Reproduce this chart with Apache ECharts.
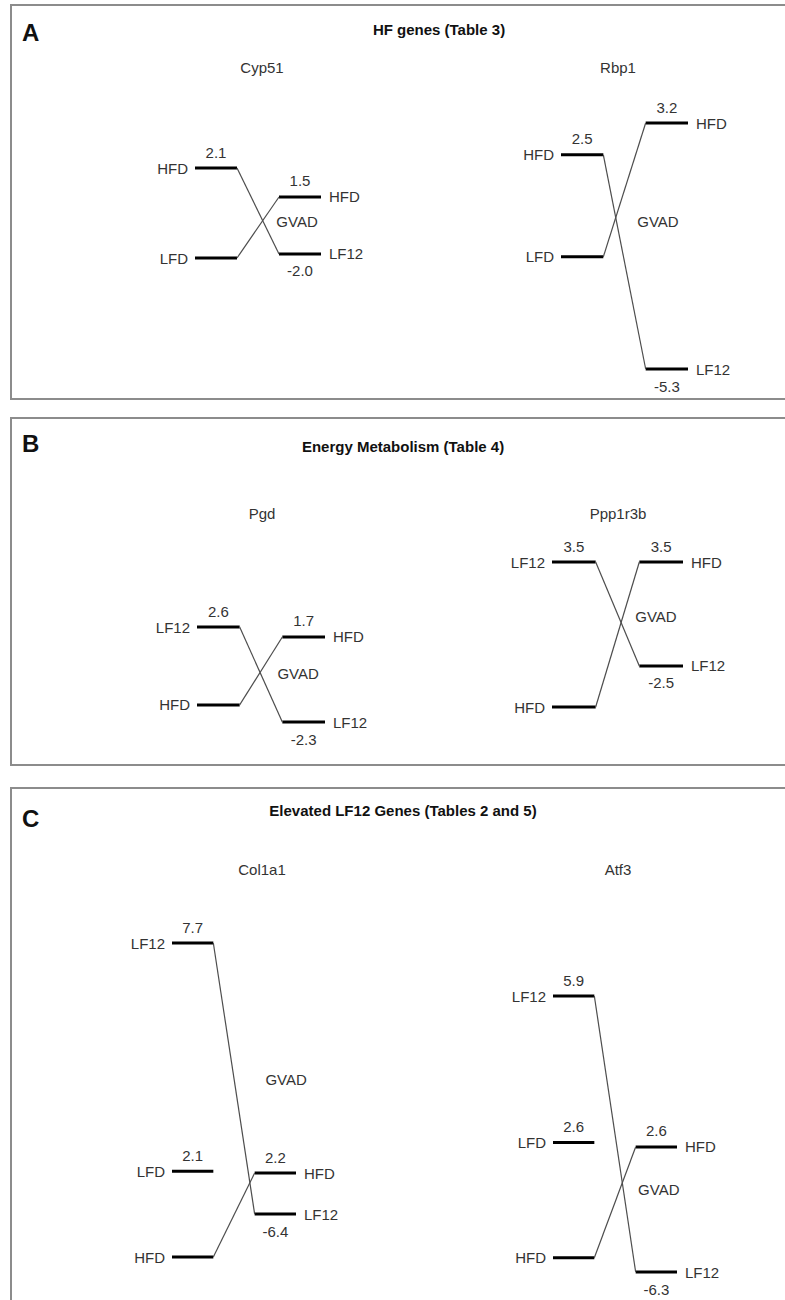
<!DOCTYPE html>
<html>
<head>
<meta charset="utf-8">
<script src="https://cdn.jsdelivr.net/npm/echarts@6/dist/echarts.min.js"></script>
<style>
  html, body { margin: 0; padding: 0; background: #fff; }
  #main { width: 785px; height: 1300px; }
</style>
</head>
<body>
<div id="main"></div>
<script>
// panels
var panelLetters = ['A', 'B', 'C'];
var panelTitles = ['HF genes (Table 3)', 'Energy Metabolism (Table 4)', 'Elevated LF12 Genes (Tables 2 and 5)'];

// genes, two per panel
var genes = ['Cyp51', 'Rbp1', 'Pgd', 'Ppp1r3b', 'Col1a1', 'Atf3'];

// left column: diet groups and fold values (null = reference, no number shown)
var leftGroups = [
    ['HFD', 'LFD'],
    ['HFD', 'LFD'],
    ['LF12', 'HFD'],
    ['LF12', 'HFD'],
    ['LF12', 'LFD', 'HFD'],
    ['LF12', 'LFD', 'HFD']
];
var leftValues = [
    [2.1, null],
    [2.5, null],
    [2.6, null],
    [3.5, null],
    [7.7, 2.1, null],
    [5.9, 2.6, null]
];

// right column: GVAD comparison
var rightGroups = [
    ['HFD', 'LF12'],
    ['HFD', 'LF12'],
    ['HFD', 'LF12'],
    ['HFD', 'LF12'],
    ['HFD', 'LF12'],
    ['HFD', 'LF12']
];
var rightValues = [
    [1.5, -2.0],
    [3.2, -5.3],
    [1.7, -2.3],
    [3.5, -2.5],
    [2.2, -6.4],
    [2.6, -6.3]
];

// which left bar joins which right bar
var links = [
    [[0, 1], [1, 0]],
    [[0, 1], [1, 0]],
    [[0, 1], [1, 0]],
    [[0, 1], [1, 0]],
    [[0, 1], [2, 0]],
    [[0, 1], [2, 0]]
];

// layout of each small diagram (pixels and axis ranges)
var layout = [
    { grid: [195, 168, 126, 90],  yL: [0, 2.1],     yR: [-2.25, 3.28], gvad: [2.43, -0.03] },
    { grid: [561, 123, 127, 246], yL: [-2.75, 3.28], yR: [-5.3, 3.2],  gvad: [2.29, -0.22] },
    { grid: [197, 627, 128, 95],  yL: [-0.57, 2.6], yR: [-2.3, 2.17],  gvad: [2.37, -0.04] },
    { grid: [552, 562, 131, 145], yL: [0, 3.5],     yR: [-4.87, 3.5],  gvad: [2.38, 0.33] },
    { grid: [172, 943, 124, 314], yL: [0, 7.7],     yR: [-15.4, 50.4], gvad: [2.76, 21.7] },
    { grid: [553, 996, 124, 276], yL: [-0.32, 5.9], yR: [-6.3, 13.35], gvad: [2.56, -0.4] }
];
var panelBoxes = [[11, 5, 394], [11, 418, 347], [11, 788, 600]];
var panelTitleX = [439, 403, 403];
var panelTitleY = [29, 446, 810];
var letterY = [32, 443, 818];
var geneTitleX = [262, 618];
var geneTitleY = [67, 513, 869];

var FONT = '"Liberation Sans", Arial, Helvetica, sans-serif';
var TXT = '#333';

function barRender(names, values, x0, x1, side) {
    return function (params, api) {
        var k = params.dataIndex;
        var v = values[k];
        var y = v == null ? 0 : v;
        var a = api.coord([x0, y]);
        var b = api.coord([x1, y]);
        var kids = [{
            type: 'line',
            shape: { x1: a[0], y1: a[1], x2: b[0], y2: b[1] },
            style: { stroke: '#000', lineWidth: 3 }
        }, {
            type: 'text',
            x: side === 'left' ? a[0] - 7 : b[0] + 8,
            y: a[1],
            style: {
                text: names[k], fill: TXT, font: '15px ' + FONT,
                align: side === 'left' ? 'right' : 'left', verticalAlign: 'middle'
            }
        }];
        if (v != null) {
            kids.push({
                type: 'text',
                x: (a[0] + b[0]) / 2,
                y: v >= 0 ? a[1] - 16 : a[1] + 17,
                style: {
                    text: v.toFixed(1), fill: TXT, font: '15px ' + FONT,
                    align: 'center', verticalAlign: 'middle'
                }
            });
        }
        return { type: 'group', children: kids };
    };
}

function linkRender(lv, rv, yR, pairs) {
    return function (params, api) {
        var p = pairs[params.dataIndex];
        var yl = lv[p[0]] == null ? 0 : lv[p[0]];
        var yr = rv[p[1]];
        var a = api.coord([1, yl]);
        var bx = api.coord([2, yl])[0];
        var cs = params.coordSys;
        // right-hand values live on the second y axis of this grid
        var by = cs.y + (yR[1] - yr) / (yR[1] - yR[0]) * cs.height;
        return {
            type: 'line',
            shape: { x1: a[0], y1: a[1], x2: bx, y2: by },
            style: { stroke: '#4d4d4d', lineWidth: 1.2 }
        };
    };
}

var grids = [], xAxes = [], yAxes = [], series = [];
genes.forEach(function (g, i) {
    var L = layout[i];
    grids.push({ left: L.grid[0], top: L.grid[1], width: L.grid[2], height: L.grid[3] });
    xAxes.push({ type: 'value', gridIndex: i, min: 0, max: 3, show: false });
    yAxes.push({ type: 'value', gridIndex: i, min: L.yL[0], max: L.yL[1], show: false });
    yAxes.push({ type: 'value', gridIndex: i, min: L.yR[0], max: L.yR[1], show: false, position: 'right' });

    series.push({
        type: 'custom', xAxisIndex: i, yAxisIndex: 2 * i, silent: true,
        data: leftValues[i].map(function (v) { return [v == null ? 0 : v]; }),
        renderItem: barRender(leftGroups[i], leftValues[i], 0, 1, 'left')
    });
    series.push({
        type: 'custom', xAxisIndex: i, yAxisIndex: 2 * i + 1, silent: true,
        data: rightValues[i].map(function (v) { return [v]; }),
        renderItem: barRender(rightGroups[i], rightValues[i], 2, 3, 'right')
    });
    series.push({
        type: 'custom', xAxisIndex: i, yAxisIndex: 2 * i, silent: true,
        data: links[i].map(function (p) { return [p[0], p[1]]; }),
        renderItem: linkRender(leftValues[i], rightValues[i], L.yR, links[i])
    });
    series.push({
        type: 'custom', xAxisIndex: i, yAxisIndex: 2 * i + 1, silent: true,
        data: [L.gvad],
        renderItem: function (params, api) {
            var p = api.coord([api.value(0), api.value(1)]);
            return {
                type: 'text', x: p[0], y: p[1],
                style: { text: 'GVAD', fill: TXT, font: '15px ' + FONT, align: 'center', verticalAlign: 'middle' }
            };
        }
    });
});

var graphic = [];
panelBoxes.forEach(function (b, j) {
    graphic.push({
        type: 'rect', silent: true, z: -1,
        shape: { x: b[0], y: b[1], width: 800, height: b[2] },
        style: { fill: '#fff', stroke: '#8c8c8c', lineWidth: 2 }
    });
    graphic.push({
        type: 'text', x: 22, y: letterY[j],
        style: { text: panelLetters[j], fill: '#111', font: 'bold 24px ' + FONT, align: 'left', verticalAlign: 'middle' }
    });
    graphic.push({
        type: 'text', x: panelTitleX[j], y: panelTitleY[j],
        style: { text: panelTitles[j], fill: '#111', font: 'bold 15px ' + FONT, align: 'center', verticalAlign: 'middle' }
    });
});
genes.forEach(function (g, i) {
    graphic.push({
        type: 'text', x: geneTitleX[i % 2], y: geneTitleY[Math.floor(i / 2)],
        style: { text: g, fill: TXT, font: '15px ' + FONT, align: 'center', verticalAlign: 'middle' }
    });
});

var chart = echarts.init(document.getElementById('main'), null, { renderer: 'svg' });
chart.setOption({
    backgroundColor: '#fff',
    animation: false,
    grid: grids,
    xAxis: xAxes,
    yAxis: yAxes,
    graphic: graphic,
    series: series
});
</script>
</body>
</html>
